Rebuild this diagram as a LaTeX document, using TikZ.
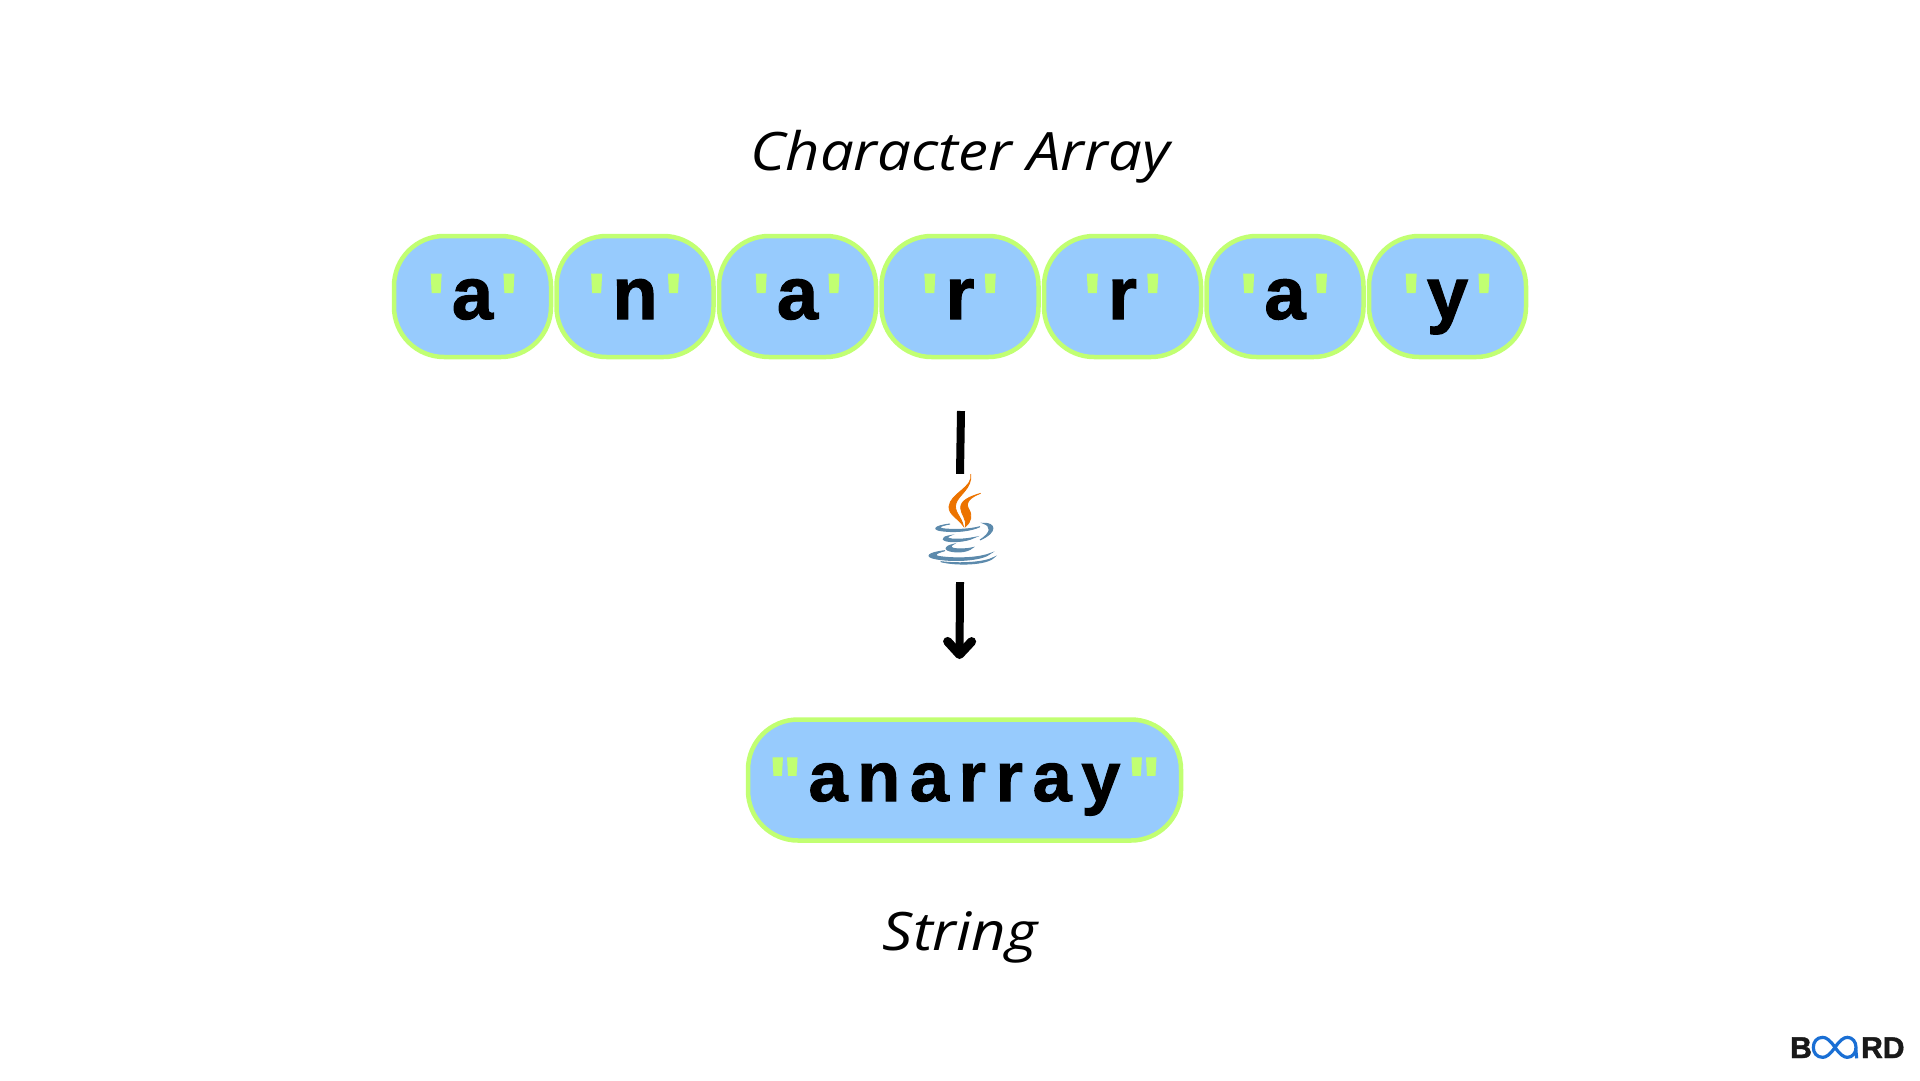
\documentclass[tikz,border=0pt]{standalone}
\usepackage{fontspec}
\setmainfont{Liberation Sans}
\newfontfamily\labelfont{Open Sans}[FakeStretch=1.13]
\newfontfamily\logofont{Liberation Sans Bold}[FakeBold=1.5]
\newfontfamily\cellfont{Liberation Sans Bold}[FakeBold=1.5]
\newfontfamily\spacedfont{Liberation Sans Bold}[FakeBold=1.5,LetterSpace=14]
\usetikzlibrary{arrows.meta}
\definecolor{boxfill}{HTML}{97CBFD}
\definecolor{boxline}{HTML}{C1FF72}
\definecolor{flame}{HTML}{EC7300}
\definecolor{cupblue}{HTML}{5C8AAC}
\definecolor{logoblue}{HTML}{1A6FD4}
\newcommand{\squote}{{\color{boxline}\raisebox{-6pt}{\textquotesingle}}}
\newcommand{\dquote}{{\color{boxline}\raisebox{-5pt}{\textquotedbl}}}
\begin{document}
\begin{tikzpicture}
[x=1pt,y=-1pt,
  charbox/.style={shape=rectangle,rounded corners=50pt,draw=boxline,fill=boxfill,line width=4.5pt,
    minimum width=157pt,minimum height=121pt,inner sep=0pt,text height=55pt,text depth=10pt,
    font=\fontsize{74}{74}\selectfont\cellfont},
  stringbox/.style={charbox,minimum width=433pt,text height=52pt,
    font=\fontsize{70}{70}\selectfont\spacedfont},
  captiontext/.style={font=\fontsize{53}{60}\selectfont\labelfont\itshape},
  flowline/.style={line width=8pt},
  flamefill/.style={fill=flame,draw=flame,line width=0.8pt},
  cupfill/.style={fill=cupblue,draw=cupblue,line width=1pt},
  logotext/.style={inner sep=0pt,anchor=base west,font=\fontsize{30}{30}\selectfont\logofont,text=black!90}]
\useasboundingbox (0,0) rectangle (1920,1080);
%% character cells
\foreach \nodename/\x/\letter in {c1/472.5/a, c2/635/n, c3/797.5/a, c4/960/r,
  c5/1122.5/r, c6/1285/a, c7/1447.5/y}
{
  \node (\nodename) at (\x,296.5) [charbox] {\squote\hspace{7pt}\letter\hspace{7pt}\squote};
}
\node (joined) at (964.5,780) [stringbox] {\dquote\hspace{7pt}anarray\hspace{7pt}\dquote};
%% captions
\node (chararray) at (960,157) [captiontext] {Character Array};
\node (stringlabel) at (960,937) [captiontext] {String};
%% java cup sits between the two lines
\node (cup) at (960,528) [minimum width=70pt,minimum height=108pt,inner sep=0pt] {};
\coordinate (linestart) at (961,411);
\coordinate (lineend) at (959.5,659);
\draw[flowline] (linestart) -- (cup.north);
\draw[flowline,-{Straight Barb[round,length=13pt,width=24pt,line width=9pt]}] (cup.south) -- (lineend);
\begin{scope}[shift={(900,400)},x=0.3333pt,y=-0.3333pt]
  %% flames
  \path[flamefill] (212,222) .. controls (222,262) and (150,280) .. (147,320)
    .. controls (146,345) and (175,355) .. (190,378)
    .. controls (185,350) and (160,335) .. (168,310)
    .. controls (175,285) and (218,265) .. (212,222) -- cycle;
  \path[flamefill] (242,280) .. controls (215,288) and (180,300) .. (182,325)
    .. controls (184,345) and (200,355) .. (196,380)
    .. controls (215,365) and (218,345) .. (205,325)
    .. controls (195,305) and (215,290) .. (242,280) -- cycle;
  %% cup and saucer
  \path[cupfill] (150,372) .. controls (100,378) and (95,390) .. (130,393)
    .. controls (170,398) and (215,392) .. (240,380)
    .. controls (210,388) and (170,390) .. (135,387)
    .. controls (112,385) and (115,378) .. (150,372) -- cycle;
  \path[cupfill] (250,370) .. controls (285,368) and (295,395) .. (240,420)
    .. controls (275,398) and (275,378) .. (250,370) -- cycle;
  \path[cupfill] (150,407) .. controls (118,412) and (125,425) .. (160,425)
    .. controls (185,425) and (210,420) .. (225,412)
    .. controls (200,417) and (175,419) .. (155,417)
    .. controls (140,415) and (140,410) .. (150,407) -- cycle;
  \path[cupfill] (160,433) .. controls (128,440) and (130,455) .. (175,456)
    .. controls (195,456) and (210,450) .. (218,443)
    .. controls (195,448) and (175,448) .. (160,445)
    .. controls (150,442) and (152,437) .. (160,433) -- cycle;
  \path[cupfill] (135,452) .. controls (85,458) and (70,470) .. (110,477)
    .. controls (170,487) and (250,480) .. (272,460)
    .. controls (245,472) and (180,478) .. (120,470)
    .. controls (100,467) and (105,460) .. (135,452) -- cycle;
  \path[cupfill] (122,485) .. controls (170,497) and (260,495) .. (282,472)
    .. controls (255,488) and (180,492) .. (122,485) -- cycle;
\end{scope}
%% corner logo
\node (logob) at (1790,1058) [logotext] {B};
\node (logord) at (1861,1058) [logotext] {RD};
\begin{scope}[shift={(1770,1020)},x=0.3333pt,y=-0.3333pt]
  \draw[logoblue,line width=3.2pt] (195,82) .. controls (180,60) and (168,52) .. (158,52)
    .. controls (140,52) and (130,66) .. (130,82)
    .. controls (130,98) and (140,112) .. (158,112)
    .. controls (168,112) and (180,104) .. (195,82)
    .. controls (210,60) and (222,52) .. (232,52)
    .. controls (248,52) and (258,66) .. (258,82)
    .. controls (258,98) and (248,112) .. (232,112)
    .. controls (222,112) and (210,104) .. (195,82);
  \draw[logoblue,line width=3.2pt] (257,84) -- (260,115);
\end{scope}
\end{tikzpicture}
\end{document}
